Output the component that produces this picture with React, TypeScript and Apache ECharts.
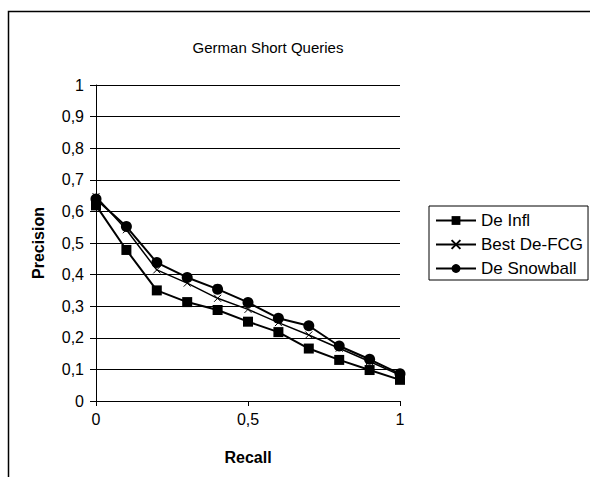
import React, { useEffect, useRef } from "react";
import * as echarts from "echarts";

const recall = [0, 0.1, 0.2, 0.3, 0.4, 0.5, 0.6, 0.7, 0.8, 0.9, 1];
const deInfl = [0.619, 0.478, 0.35, 0.313, 0.288, 0.251, 0.218, 0.166, 0.13, 0.098, 0.067];
const bestDeFCG = [0.647, 0.542, 0.415, 0.373, 0.325, 0.29, 0.248, 0.209, 0.167, 0.125, 0.082];
const deSnowball = [0.639, 0.552, 0.438, 0.391, 0.354, 0.312, 0.262, 0.238, 0.174, 0.132, 0.086];
const seriesNames = ["De Infl", "Best De-FCG", "De Snowball"];
const titleText = "German Short Queries";
const xName = "Recall";
const yName = "Precision";

const fmt = (v: number) => String(Math.round(v * 10) / 10).replace(".", ",");
const pairs = (ys: number[]) => recall.map((x, i) => [x, ys[i]]);

export default function App() {
  const ref = useRef<HTMLDivElement>(null);
  useEffect(() => {
    if (!ref.current) return;
    const chart = echarts.init(ref.current, null, { renderer: "svg" });
    const font = "'Liberation Sans', Arial, sans-serif";
    const base = {
      type: "line",
      color: "#000",
      lineStyle: { color: "#000", width: 2 },
    };
    chart.setOption({
      animation: false,
      backgroundColor: "#fff",
      textStyle: { fontFamily: font, color: "#000" },
      graphic: [
        {
          type: "rect",
          shape: { x: 8.5, y: 11.5, width: 700, height: 600 },
          style: { fill: "none", stroke: "#000", lineWidth: 1.5 },
          silent: true,
        },
        {
          type: "text",
          x: 268,
          y: 47,
          style: {
            text: titleText,
            fontSize: 15,
            fontFamily: font,
            fill: "#000",
            align: "center",
            verticalAlign: "middle",
          },
        },
      ],
      legend: {
        orient: "vertical",
        left: 429,
        top: 206,
        padding: [6, 5, 3, 6],
        itemGap: 7,
        itemWidth: 40,
        itemHeight: 11,
        borderColor: "#000",
        borderWidth: 1,
        textStyle: { fontSize: 17, fontFamily: font, color: "#000" },
        data: seriesNames,
      },
      grid: { left: 96, right: 190, top: 85, bottom: 76 },
      xAxis: {
        type: "value",
        min: 0,
        max: 1,
        interval: 0.5,
        name: xName,
        nameLocation: "middle",
        nameGap: 48,
        nameTextStyle: { fontSize: 16, fontWeight: "bold", fontFamily: font, color: "#000" },
        axisLine: { lineStyle: { color: "#000", width: 1 } },
        axisTick: { show: true, length: 5, lineStyle: { color: "#000" } },
        axisLabel: { fontSize: 16, color: "#000", margin: 10, formatter: fmt },
        splitLine: { show: false },
      },
      yAxis: {
        type: "value",
        min: 0,
        max: 1,
        interval: 0.1,
        name: yName,
        nameLocation: "middle",
        nameGap: 50,
        nameTextStyle: { fontSize: 16, fontWeight: "bold", fontFamily: font, color: "#000" },
        axisLine: { show: true, lineStyle: { color: "#000", width: 1 } },
        axisTick: { show: true, length: 6, lineStyle: { color: "#000" } },
        axisLabel: { fontSize: 16, color: "#000", margin: 12, formatter: fmt },
        splitLine: { show: true, lineStyle: { color: "#000", width: 1 } },
      },
      series: [
        {
          ...base,
          name: seriesNames[0],
          symbol: "rect",
          symbolSize: 10,
          itemStyle: { color: "#000" },
          data: pairs(deInfl),
        },
        {
          ...base,
          name: seriesNames[1],
          symbol: "path://M0,0L10,10M10,0L0,10",
          symbolSize: 7,
          itemStyle: { color: "none", borderColor: "#000", borderWidth: 1 },
          lineStyle: { color: "#000", width: 1.5 },
          data: pairs(bestDeFCG),
        },
        {
          ...base,
          name: seriesNames[2],
          symbol: "circle",
          symbolSize: 11,
          itemStyle: { color: "#000" },
          data: pairs(deSnowball),
        },
      ],
    });
    return () => chart.dispose();
  }, []);
  return (
    <div
      ref={ref}
      style={{ position: "absolute", left: 0, top: 0, width: 590, height: 477 }}
    />
  );
}
